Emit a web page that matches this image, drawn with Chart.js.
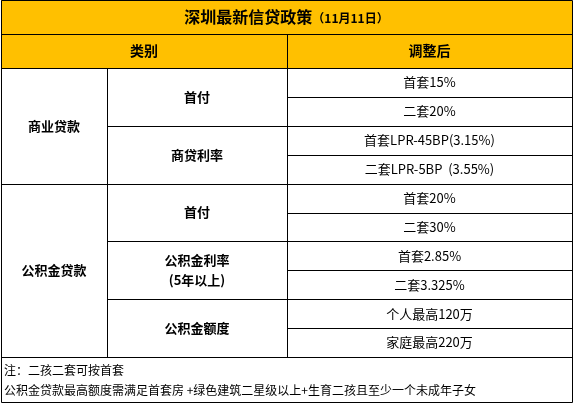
<!DOCTYPE html>
<html><head><meta charset="utf-8">
<script src="https://cdn.jsdelivr.net/npm/chart.js@4"></script>
<style>html,body{margin:0;padding:0;background:#fff}#wrap{width:574px;height:403px}</style>
</head><body><div id="wrap"><canvas id="mycanvas"></canvas></div>
<script>
var title = "深圳最新信贷政策";
var titleDate = "（11月11日）";
var headers = ["类别", "调整后"];
var groups = ["商业贷款", "公积金贷款"];
var groupRows = [4, 6];
var items = ["首付", "商贷利率", "首付", "公积金利率\n(5年以上)", "公积金额度"];
var itemRows = [2, 2, 2, 2, 2];
var values = ["首套15%", "二套20%", "首套LPR-45BP(3.15%)", "二套LPR-5BP  (3.55%)", "首套20%", "二套30%", "首套2.85%", "二套3.325%", "个人最高120万", "家庭最高220万"];
var notes = ["注：二孩二套可按首套", "公积金贷款最高额度需满足首套房 +绿色建筑二星级以上+生育二孩且至少一个未成年子女"];

var colX = [1, 107, 287, 572];
var rowTop = 68, rowH = 28.9, titleH = 34, noteBottom = 402;
var FONT = "'Noto Sans CJK SC', sans-serif";

var tablePlugin = {
  id: 'table',
  afterDraw: function(chart) {
    var ctx = chart.ctx, xs = chart.scales.x, ys = chart.scales.y;
    var X = function(v){ return xs.getPixelForValue(v); };
    var Y = function(v){ return ys.getPixelForValue(v); };
    ctx.save();
    // gold header band
    ctx.fillStyle = '#FFC000';
    ctx.fillRect(X(colX[0]), Y(0), X(colX[3]) - X(colX[0]), Y(rowTop) - Y(0));
    ctx.strokeStyle = '#000'; ctx.lineWidth = 1;
    function line(x1, y1, x2, y2) {
      ctx.beginPath(); ctx.moveTo(Math.round(X(x1)) + 0.5, Math.round(Y(y1)) + 0.5);
      ctx.lineTo(Math.round(X(x2)) + 0.5, Math.round(Y(y2)) + 0.5); ctx.stroke();
    }
    function text(s, x, y, font, align) {
      ctx.font = font; ctx.fillStyle = '#000'; ctx.textAlign = align || 'center'; ctx.textBaseline = 'middle';
      var parts = s.split('\n');
      parts.forEach(function(p, i){ ctx.fillText(p, X(x), Y(y + (i - (parts.length - 1) / 2) * 20)); });
    }
    var end = rowTop + rowH * values.length;
    // outer frame and horizontal rules
    line(colX[0], 0, colX[3], 0);
    line(colX[0], 0, colX[0], noteBottom);
    line(colX[3], 0, colX[3], noteBottom);
    line(colX[0], noteBottom, colX[3], noteBottom);
    line(colX[0], titleH, colX[3], titleH);
    line(colX[0], rowTop, colX[3], rowTop);
    line(colX[0], end, colX[3], end);
    line(colX[2], titleH, colX[2], end);
    line(colX[1], rowTop, colX[1], end);
    // title & headers
    ctx.font = "bold 16px " + FONT;
    var tw = ctx.measureText(title).width;
    ctx.font = "bold 12px " + FONT;
    var dw = ctx.measureText(titleDate).width;
    var tx = (colX[0] + colX[3]) / 2 - (tw + dw) / 2;
    text(title, tx, titleH / 2, "bold 16px " + FONT, 'left');
    text(titleDate, tx + tw, titleH / 2 + 1, "bold 12px " + FONT, 'left');
    text(headers[0], (colX[0] + colX[2]) / 2, (titleH + rowTop) / 2, "bold 14px " + FONT);
    text(headers[1], (colX[2] + colX[3]) / 2, (titleH + rowTop) / 2, "bold 14px " + FONT);
    // groups
    var r = 0;
    groups.forEach(function(g, i){
      var y0 = rowTop + r * rowH, y1 = y0 + groupRows[i] * rowH;
      text(g, (colX[0] + colX[1]) / 2, (y0 + y1) / 2, "bold 13px " + FONT);
      if (i > 0) line(colX[0], y0, colX[2], y0);
      r += groupRows[i];
    });
    r = 0;
    items.forEach(function(it, i){
      var y0 = rowTop + r * rowH, y1 = y0 + itemRows[i] * rowH;
      text(it, (colX[1] + colX[2]) / 2, (y0 + y1) / 2, "bold 13px " + FONT);
      if (i > 0) line(colX[1], y0, colX[2], y0);
      r += itemRows[i];
    });
    values.forEach(function(v, i){
      var y0 = rowTop + i * rowH;
      if (i > 0) line(colX[2], y0, colX[3], y0);
      text(v, (colX[2] + colX[3]) / 2, y0 + rowH / 2, "13px " + FONT);
    });
    notes.forEach(function(n, i){
      text(n, colX[0] + 3, end + 13 + i * 20, "12px " + FONT, 'left');
    });
    ctx.restore();
  }
};

new Chart(document.getElementById('mycanvas'), {
  type: 'scatter',
  data: { datasets: [{ data: [] }] },
  options: {
    responsive: true, maintainAspectRatio: false, animation: false,
    layout: { padding: 0 },
    plugins: { legend: { display: false }, tooltip: { enabled: false } },
    scales: {
      x: { type: 'linear', min: 0, max: 574, display: false },
      y: { type: 'linear', min: 0, max: 403, reverse: true, display: false }
    }
  },
  plugins: [tablePlugin]
});
</script></body></html>
